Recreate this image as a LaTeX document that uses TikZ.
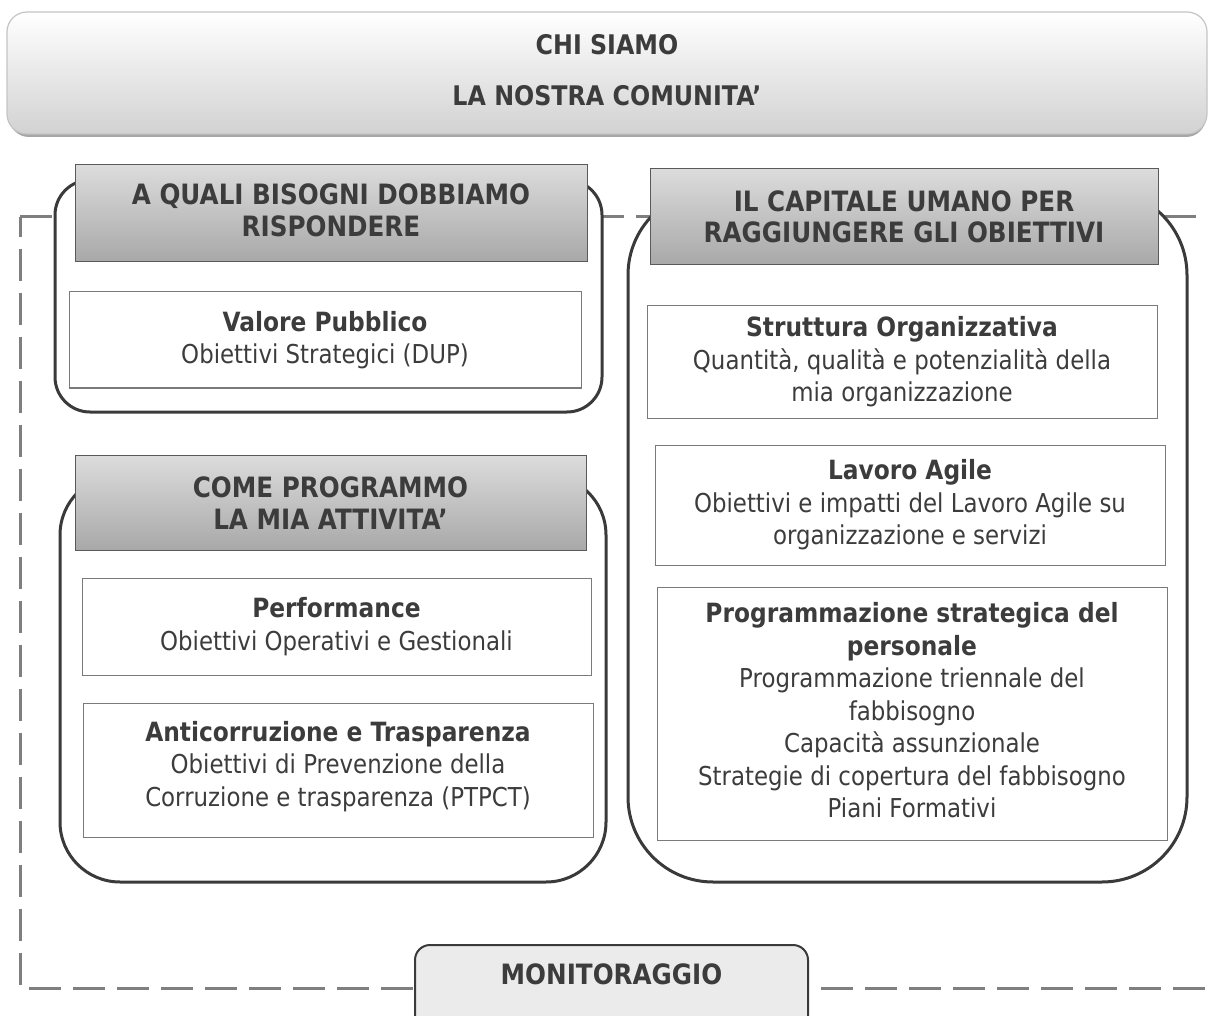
\documentclass[tikz,border=0pt]{standalone}
\usepackage{fontspec}
\setmainfont{DejaVu Sans}[FakeStretch=0.88]
\begin{document}
\begin{tikzpicture}[x=1pt,y=-1pt,
  txt/.style={text=txtcol, align=center, font=\fontsize{26}{32.5}\selectfont},
  bigbox/.style={draw=boxline, line width=3pt, fill=white},
  headbox/.style={draw=headline, line width=1pt, top color=headtop, bottom color=headbot, txt, font=\bfseries\fontsize{28}{31.5}\selectfont, inner sep=0pt},
  innerbox/.style={draw=innerline, line width=1pt, fill=white, txt, inner sep=0pt},
  topbox/.style={draw=topline, line width=1.2pt, top color=white, bottom color=topbot, rounded corners=20pt},
  dashframe/.style={draw=dashcol, line width=3pt, dash pattern=on 32pt off 12pt}
]
\definecolor{txtcol}{HTML}{3C3C3C}
\definecolor{boxline}{HTML}{3A3A3A}
\definecolor{headline}{HTML}{5A5A5A}
\definecolor{headtop}{HTML}{DCDCDC}
\definecolor{headbot}{HTML}{A8A8A8}
\definecolor{innerline}{HTML}{7A7A7A}
\definecolor{topline}{HTML}{C4C4C4}
\definecolor{topbot}{HTML}{D2D2D2}
\definecolor{dashcol}{HTML}{7F7F7F}
\definecolor{monfill}{HTML}{EBEBEB}
\newcommand{\bt}[1]{{\fontsize{26.5}{32.5}\selectfont\bfseries #1}}
\useasboundingbox (0,0) rectangle (1208,1016);
\clip (0,0) rectangle (1208,1016);
% top box
\fill[black!35] (9,15) [rounded corners=20pt] rectangle (1206,137);
\node[topbox, minimum width=1200pt, minimum height=122pt] (top) at (607,73) {};
\node[txt, font=\bfseries\fontsize{27}{31}\selectfont] (toptxt) at (607,70) {CHI SIAMO\\[20pt]LA NOSTRA COMUNITA’};
% dashed frame
\coordinate (d1) at (1208,217);
\coordinate (d2) at (20,217);
\coordinate (d3) at (20,988);
\coordinate (d4) at (1208,988);
\draw[dashframe] (d2) -- (d1);
\draw[dashframe, dash phase=12pt] (d2) -- (d3) -- (d4);
% A QUALI group
\node[bigbox, rounded corners=35pt, minimum width=547pt, minimum height=232pt] (g1) at (328.5,296) {};
\node[headbox, minimum width=512pt, minimum height=97pt] (h1) at (331,213.5) {A QUALI BISOGNI DOBBIAMO\\RISPONDERE\\[-25pt]};
\node[innerbox, minimum width=512pt, minimum height=96pt] (b1) at (325,340) {\bt{Valore Pubblico}\\Obiettivi Strategici (DUP)};
% COME PROGRAMMO group
\node[bigbox, rounded corners=60pt, minimum width=546pt, minimum height=407pt] (g2) at (333,678.5) {};
\node[headbox, minimum width=511pt, minimum height=95pt] (h2) at (330.5,503) {COME PROGRAMMO\\LA MIA ATTIVITA’};
\node[innerbox, minimum width=509pt, minimum height=97pt] (b2) at (336.5,626.5) {\bt{Performance}\\Obiettivi Operativi e Gestionali};
\node[innerbox, minimum width=510pt, minimum height=134pt] (b3) at (338,770) {\bt{Anticorruzione e Trasparenza}\\Obiettivi di Prevenzione della\\Corruzione e trasparenza (PTPCT)\\[-20pt]};
% CAPITALE UMANO group
\node[bigbox, rounded corners=85pt, minimum width=559pt, minimum height=692pt] (g3) at (907.5,536) {};
\node[headbox, minimum width=508pt, minimum height=96pt] (h3) at (904,217) {IL CAPITALE UMANO PER\\RAGGIUNGERE GLI OBIETTIVI};
\node[innerbox, minimum width=510pt, minimum height=112pt] (b4) at (902,362) {\bt{Struttura Organizzativa}\\Quantità, qualità e potenzialità della\\mia organizzazione};
\node[innerbox, minimum width=510pt, minimum height=120pt] (b5) at (910,505) {\bt{Lavoro Agile}\\Obiettivi e impatti del Lavoro Agile su\\organizzazione e servizi};
\node[innerbox, minimum width=510pt, minimum height=253pt] (b6) at (912,713.5) {\bt{Programmazione strategica del}\\\bt{personale}\\Programmazione triennale del\\fabbisogno\\Capacità assunzionale\\Strategie di copertura del fabbisogno\\Piani Formativi\\[-26pt]};
% MONITORAGGIO
\node[draw=boxline, line width=2pt, fill=monfill, rounded corners=15pt, minimum width=393pt, minimum height=100pt, anchor=north] (mon) at (611.5,944) {};
\node[txt, font=\bfseries\fontsize{28}{31}\selectfont] (montxt) at ([yshift=-30pt]mon.north) {MONITORAGGIO};
\end{tikzpicture}
\end{document}
